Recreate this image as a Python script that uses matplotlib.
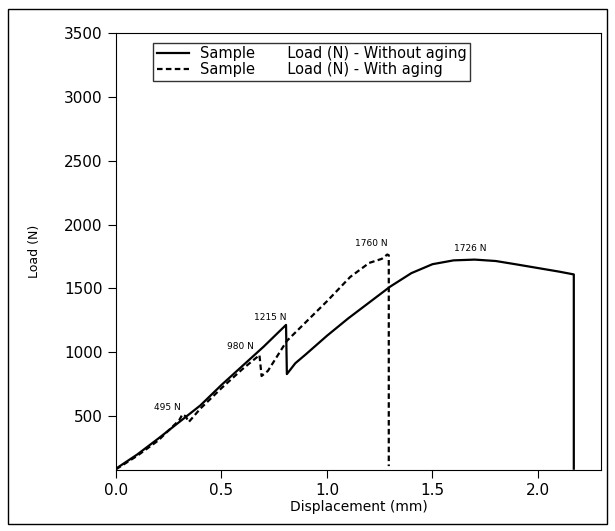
import matplotlib
matplotlib.use("Agg")
import matplotlib.pyplot as plt
from matplotlib.patches import Rectangle

# load-displacement curves
disp_no_aging = [0.0, 0.1, 0.2, 0.3, 0.4, 0.5, 0.6, 0.7, 0.806, 0.81, 0.85, 0.9,
                 1.0, 1.1, 1.2, 1.3, 1.4, 1.5, 1.6, 1.7, 1.8, 1.9, 2.0, 2.1, 2.17, 2.17]
load_no_aging = [90, 200, 325, 455, 585, 745, 895, 1045, 1215, 830, 915, 985,
                 1130, 1265, 1390, 1515, 1620, 1690, 1720, 1726, 1715, 1688, 1660, 1632, 1610, 90]

disp_aging = [0.0, 0.1, 0.2, 0.3, 0.315, 0.33, 0.345, 0.4, 0.5, 0.6, 0.67, 0.68, 0.69,
              0.72, 0.81, 1.0, 1.11, 1.2, 1.26, 1.286, 1.293, 1.293]
load_aging = [85, 190, 310, 470, 515, 500, 455, 560, 720, 870, 965, 980, 815,
              855, 1090, 1400, 1590, 1700, 1732, 1766, 1760, 110]

# peak labels
peak_text = ["495 N", "980 N", "1215 N", "1760 N", "1726 N"]
peak_x = [0.245, 0.588, 0.73, 1.212, 1.678]
peak_y = [570, 1047, 1276, 1849, 1815]

fig = plt.figure(figsize=(6.15, 5.31), dpi=100)
ax = fig.add_axes([0.1886, 0.115, 0.789, 0.823])

ax.plot(disp_no_aging, load_no_aging, color="black", lw=1.6,
        label="Sample       Load (N) - Without aging")
ax.plot(disp_aging, load_aging, color="black", lw=1.6, linestyle=(0, (2.5, 1.5)),
        label="Sample       Load (N) - With aging")

for t, x, y in zip(peak_text, peak_x, peak_y):
    ax.text(x, y, t, fontsize=6.5, ha="center", va="center")

ax.set_xlim(0, 2.3)
ax.set_ylim(80, 3500)
ax.set_xticks([0.0, 0.5, 1.0, 1.5, 2.0])
ax.set_xticklabels(["0.0", "0.5", "1.0", "1.5", "2.0"])
ax.set_yticks([500, 1000, 1500, 2000, 2500, 3000, 3500])
ax.tick_params(direction="out", length=6, labelsize=11)
ax.set_xlabel("Displacement (mm)", fontsize=10, labelpad=1)
ax.set_ylabel("Load (N)", fontsize=9, labelpad=17)

leg = ax.legend(loc="upper left", bbox_to_anchor=(0.076, 0.978), fontsize=10.5,
                frameon=True, fancybox=False, handlelength=2.2, handletextpad=0.75,
                borderpad=0.25, labelspacing=0.05, borderaxespad=0)
leg.get_frame().set_edgecolor("black")
leg.get_frame().set_linewidth(1)

# outer frame around the figure
fig.patches.append(Rectangle((0.013, 0.013), 0.974, 0.97, transform=fig.transFigure,
                             fill=False, edgecolor="black", lw=1))

fig.savefig("out.png", dpi=100)
